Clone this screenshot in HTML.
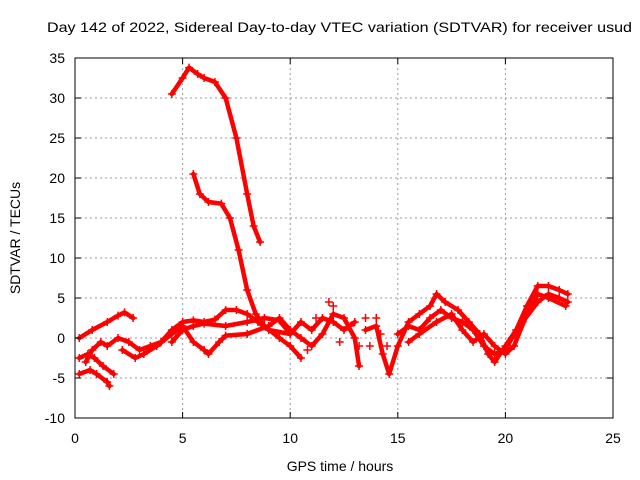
<!DOCTYPE html>
<html><head><meta charset="utf-8"><style>
body{margin:0;background:#fff}
svg{display:block;font-family:"Liberation Sans",sans-serif}
</style></head><body>
<svg id="chart" width="640" height="480" viewBox="0 0 640 480">
<rect x="0" y="0" width="640" height="480" fill="#fff"/>
<text x="47" y="32" font-size="14" textLength="585" lengthAdjust="spacingAndGlyphs">Day 142 of 2022, Sidereal Day-to-day VTEC variation (SDTVAR) for receiver usud</text>
<text x="340" y="471" font-size="14" text-anchor="middle">GPS time / hours</text>
<text transform="translate(20,238) rotate(-90)" font-size="14" text-anchor="middle">SDTVAR / TECUs</text>
<g id="grid"></g>
<g id="marks"></g>
<rect x="75" y="58" width="538" height="360" fill="none" stroke="#000" stroke-width="1"/>
</svg>
<script>
const xTicks=[0,5,10,15,20,25];
const yTicks=[-10,-5,0,5,10,15,20,25,30,35];
const track1=[[4.5,30.5],[5,32.5],[5.3,33.8],[5.7,33],[6,32.5],[6.5,32],[7,30],[7.5,25],[8,18],[8.3,14],[8.6,12]];
const track2=[[5.5,20.5],[5.8,18],[6.2,17],[6.8,16.8],[7.2,15],[7.6,11],[8,6],[8.4,3],[8.8,1.5],[9.5,0],[10,-1],[10.5,-2.5]];
const track3=[[0.2,0],[0.8,1],[1.5,2],[2,2.8],[2.3,3.2],[2.7,2.5]];
const track4=[[0.2,-2.5],[0.6,-2],[0.9,-2.5],[1.3,-3.5],[1.8,-4.5]];
const track5=[[0.2,-4.5],[0.7,-4],[1,-4.5],[1.5,-5.5],[1.6,-6]];
const track6=[[0.5,-3],[0.8,-1.5],[1.2,-0.5],[1.5,-1],[2,0],[2.5,-0.5],[3,-1.5],[3.5,-1],[4,-0.5],[4.5,1],[5,2],[5.5,2.2],[6,2],[6.5,2.3],[7,3.5],[7.5,3.5],[8,3],[8.5,2],[9,1],[10,0.5],[10.5,2],[11,1],[11.5,2.5],[12,2],[12.5,1],[13,2]];
const track7=[[2.2,-1.5],[2.8,-2.5],[3.2,-2],[3.8,-1],[4.5,0.5],[5,1.5],[5.5,-0.5],[6,-1.5],[6.2,-2],[6.7,-0.5],[7,0.3],[8,0.5],[9,1.5],[9.5,2.5],[10,1],[10.5,0],[11,-1],[11.5,0.5],[12,3],[12.5,2.5],[13,0],[13.2,-3.5]];
const track8=[[4.5,-0.5],[5,1],[5.5,1.5],[6,1.8],[7,1.5],[8,2],[8.8,2.5],[9.5,2.2],[10,0.5]];
const track9=[[13.5,1],[14,1.5],[14.3,-2],[14.6,-4.5],[15,-1],[15.5,2],[16,3],[16.5,4],[16.8,5.5],[17.2,4.5],[17.8,3.5],[18.3,2],[18.8,0.5],[19.2,-2],[19.5,-3],[20,-1],[20.5,1],[21,4],[21.5,6.5],[22,6.5],[22.5,6],[22.9,5.5]];
const track10=[[15,0.5],[15.5,1.5],[16,1],[16.5,2.5],[17,3.5],[17.5,2.5],[18,2],[18.5,1],[19,-1],[19.5,-2],[20,-1.5],[20.3,0],[20.8,2],[21.5,4.5],[22,5.5],[22.5,5],[22.9,4.5]];
const track11=[[15.5,-0.5],[16,0.5],[16.8,2],[17.5,3],[18,1],[18.5,-0.5],[19,0.5],[19.5,-1],[20,-2],[20.4,-1],[21,3],[21.5,5.5],[22,5],[22.8,4]];
const track12=[[11.8,4.5],[12,4],[13.2,-1],[13.5,2.5],[13.7,-1],[14,2.5],[14.2,0.5],[14.5,-1],[10.8,-1.5],[11.2,2.5],[12.3,-0.5],[12.8,1.5]];
const tracks=[track1,track2,track3,track4,track5,track6,track7,track8,track9,track10,track11];
const NS="http://www.w3.org/2000/svg";
const X0=75,X1=613,Y0=418,Y1=58;
const xs=v=>X0+(v-0)/25*(X1-X0);
const ys=v=>Y0-(v+10)/45*(Y0-Y1);
const grid=document.getElementById('grid'),marks=document.getElementById('marks'),svg=document.getElementById('chart');
function mk(t,a,p){const e=document.createElementNS(NS,t);for(const k in a)e.setAttribute(k,a[k]);p.appendChild(e);return e;}
xTicks.forEach(v=>{
 const x=xs(v);
 if(v>0&&v<25){const l=mk('line',{x1:x,x2:x,y1:Y1,y2:Y0,stroke:'#999','stroke-dasharray':'2,3'},grid);
 
 }
 const t=mk('text',{x:x,y:Y0+25,'font-size':14,'text-anchor':'middle'},svg);t.textContent=v;
 
 
 mk('line',{x1:x,x2:x,y1:Y0,y2:Y0-6,stroke:'#000'},svg);
 mk('line',{x1:x,x2:x,y1:Y1,y2:Y1+6,stroke:'#000'},svg);
});
yTicks.forEach(v=>{
 const y=ys(v);
 if(v>-10&&v<35){const l=mk('line',{x1:X0,x2:X1,y1:y,y2:y,stroke:'#999','stroke-dasharray':'2,3'},grid);
 
 }
 const t=mk('text',{x:X0-10,y:y+5,'font-size':14,'text-anchor':'end'},svg);t.textContent=v;
 
 
 mk('line',{x1:X0,x2:X0+6,y1:y,y2:y,stroke:'#000'},svg);
 mk('line',{x1:X1,x2:X1-6,y1:y,y2:y,stroke:'#000'},svg);
});
tracks.forEach(tr=>{
 const pl=mk('polyline',{points:tr.map(p=>xs(p[0])+','+ys(p[1])).join(' '),fill:'none',stroke:'#f00','stroke-width':4.5,'stroke-linejoin':'round','stroke-linecap':'round'},marks);
 
 
});
tracks.concat([track12]).forEach(tr=>tr.forEach(p=>{
 const x=xs(p[0]),y=ys(p[1]);
 const m=mk('path',{d:`M${x-4},${y}H${x+4}M${x},${y-4}V${y+4}`,stroke:'#f00','stroke-width':1.5},marks);
 
 
}));
</script>
</body></html>
